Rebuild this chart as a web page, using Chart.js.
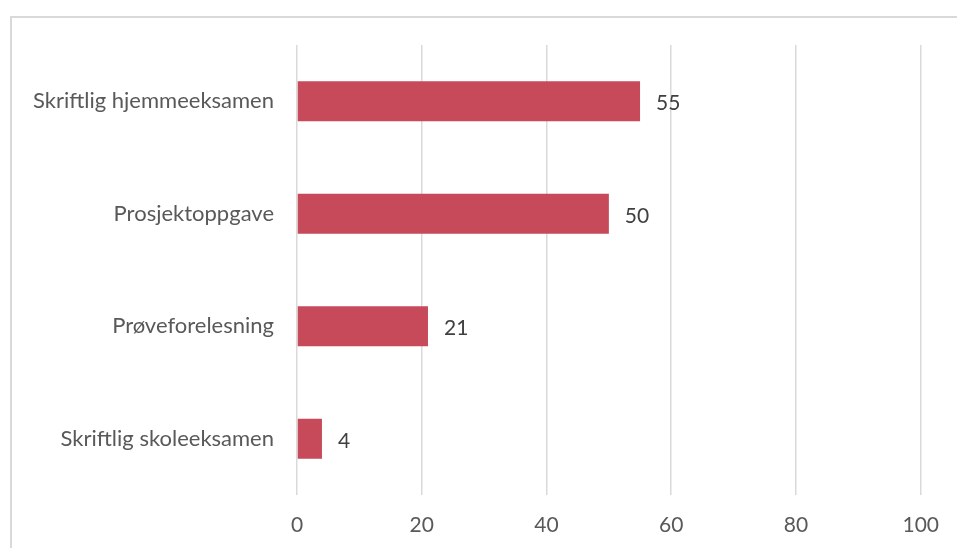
<!DOCTYPE html>
<html>
<head>
<meta charset="utf-8">
<script src="https://cdn.jsdelivr.net/npm/chart.js@4/dist/chart.umd.min.js"></script>
<style>
  html, body { margin: 0; padding: 0; background: #fff; }
  #wrap { width: 957px; height: 548px; }
</style>
</head>
<body>
<div id="wrap"><canvas id="examChart"></canvas></div>
<script>
const categories = ["Skriftlig hjemmeeksamen", "Prosjektoppgave", "Prøveforelesning", "Skriftlig skoleeksamen"];
const counts = [55, 50, 21, 4];
const xTicks = [0, 20, 40, 60, 80, 100];

const fontFamily = "Lato, 'Open Sans', sans-serif";

// light frame round the chart, cut off at the right and bottom
const frame = {
    id: 'frame',
    beforeDraw(chart) {
        const c = chart.ctx;
        c.save();
        c.strokeStyle = '#d9d9d9';
        c.lineWidth = 2;
        c.strokeRect(11, 17, chart.width + 20, chart.height + 20);
        c.restore();
    }
};

// value written just right of each bar
const valueLabels = {
    id: 'valueLabels',
    afterDatasetsDraw(chart) {
        const c = chart.ctx;
        const meta = chart.getDatasetMeta(0);
        c.save();
        c.font = '21px ' + fontFamily;
        c.fillStyle = '#404040';
        c.textAlign = 'left';
        c.textBaseline = 'middle';
        meta.data.forEach((bar, i) => {
            c.fillText(String(counts[i]), bar.x + 16, bar.y + 2);
        });
        c.restore();
    }
};

var ctx = document.getElementById("examChart").getContext('2d');
var myChart = new Chart(ctx, {
    type: 'bar',
    data: {
        labels: categories,
        datasets: [{
            data: counts,
            backgroundColor: '#c74a5a',
            borderWidth: 0,
            categoryPercentage: 1,
            barPercentage: 0.356
        }]
    },
    options: {
        indexAxis: 'y',
        responsive: true,
        maintainAspectRatio: false,
        animation: false,
        layout: { padding: { top: 45, right: 36, left: 0, bottom: 0 } },
        plugins: {
            legend: { display: false },
            tooltip: { enabled: false }
        },
        scales: {
            x: {
                min: 0,
                max: 100,
                afterBuildTicks(axis) { axis.ticks = xTicks.map(v => ({ value: v })); },
                afterFit(axis) { axis.height = 53; },
                border: { display: false },
                grid: { color: '#d9d9d9', lineWidth: 1.5, drawTicks: false },
                ticks: {
                    color: '#595959',
                    font: { family: fontFamily, size: 21 },
                    padding: 18,
                    maxRotation: 0
                }
            },
            y: {
                afterFit(axis) { axis.width = 297; },
                border: { display: false },
                grid: { display: false, drawTicks: false },
                ticks: {
                    color: '#595959',
                    font: { family: fontFamily, size: 22 },
                    padding: 23
                }
            }
        }
    },
    plugins: [frame, valueLabels]
});
</script>
</body>
</html>
